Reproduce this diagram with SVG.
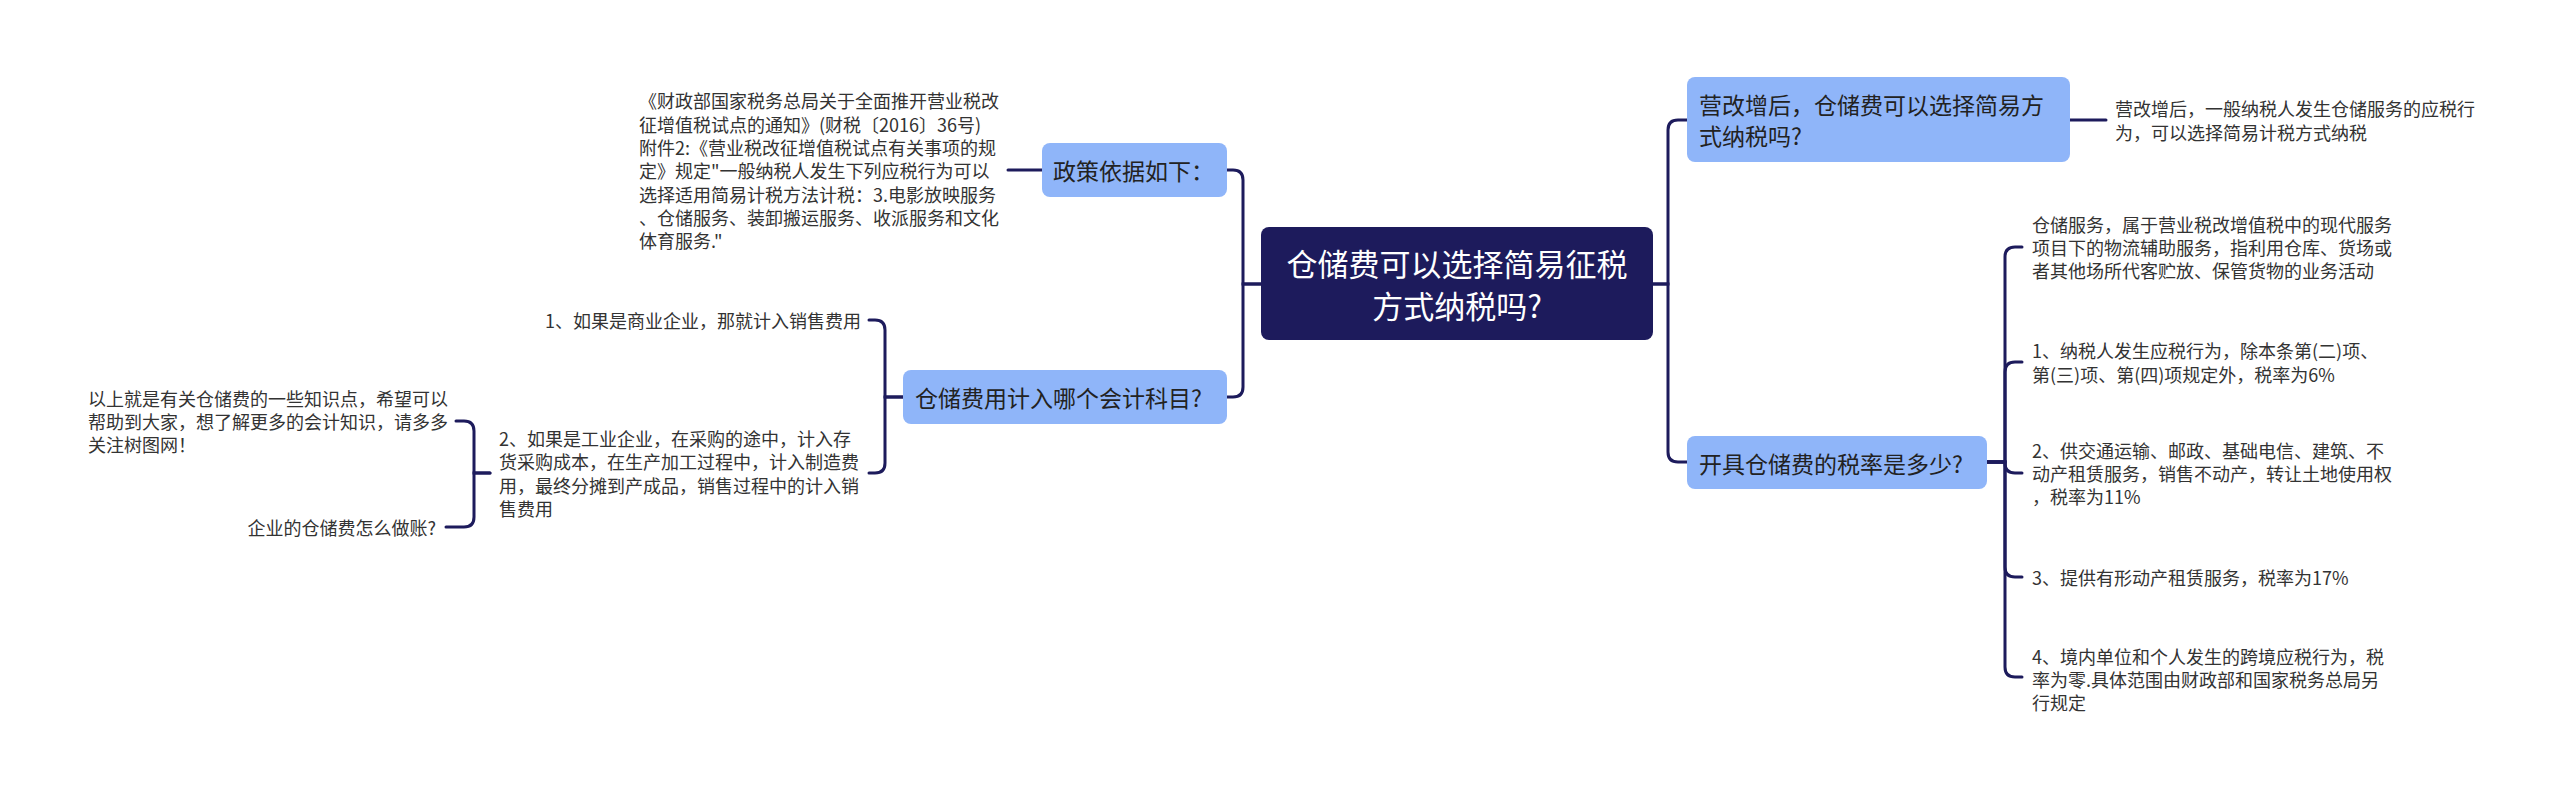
<svg xmlns="http://www.w3.org/2000/svg" width="2560" height="802" viewBox="0 0 2560 802">
<style>
text{font-family:"Noto Sans CJK SC","Noto Sans",sans-serif;dominant-baseline:central}
.root{fill:#1d1b5c}
.rt{fill:#ffffff;font-size:31px}
.br{fill:#8fb5f9}
.bt{fill:#222222;font-size:23px}
.lf{fill:#333333;font-size:18px}
.c{fill:none;stroke:#1d1b5c;stroke-width:3;stroke-linecap:round}
</style>
<rect width="2560" height="802" fill="#ffffff"/>
<g id="connectors">
<path class="c" d="M1261 284 H1243 V180 Q1243 170 1233 170 H1227"/>
<path class="c" d="M1261 284 H1243 V387 Q1243 397 1233 397 H1227"/>
<path class="c" d="M1042 170 H1008"/>
<path class="c" d="M903 397 H885 V330 Q885 320 875 320 H869"/>
<path class="c" d="M903 397 H885 V463 Q885 473 875 473 H869"/>
<path class="c" d="M490 473 H474 V431 Q474 421 464 421 H456"/>
<path class="c" d="M490 473 H474 V517 Q474 527 464 527 H446"/>
<path class="c" d="M1653 284 H1668 V130 Q1668 120 1678 120 H1687"/>
<path class="c" d="M1653 284 H1668 V452 Q1668 462 1678 462 H1687"/>
<path class="c" d="M2070 120 H2106"/>
<path class="c" d="M1987 462 H2005 V257 Q2005 247 2015 247 H2022"/>
<path class="c" d="M1987 462 H2005 V372 Q2005 362 2015 362 H2022"/>
<path class="c" d="M1987 462 H2005 V463 Q2005 473 2015 473 H2022"/>
<path class="c" d="M1987 462 H2005 V567 Q2005 577 2015 577 H2022"/>
<path class="c" d="M1987 462 H2005 V667 Q2005 677 2015 677 H2022"/>
</g>
<g id="root">
<rect class="root" x="1261" y="227" width="392" height="113" rx="8"/>
<text class="rt" x="1457" y="262" text-anchor="middle">仓储费可以选择简易征税</text>
<text class="rt" x="1457" y="304" text-anchor="middle">方式纳税吗?</text>
</g>
<g id="node-policy">
<rect class="br" x="1042" y="143" width="185" height="54" rx="8"/>
<text class="bt" x="1053" y="170">政策依据如下：</text>
</g>
<g id="leaf-policy">
<text class="lf" x="639" y="100.3">《财政部国家税务总局关于全面推开营业税改</text>
<text class="lf" x="639" y="123.6">征增值税试点的通知》(财税〔2016〕36号)</text>
<text class="lf" x="639" y="147">附件2:《营业税改征增值税试点有关事项的规</text>
<text class="lf" x="639" y="170.3">定》规定"一般纳税人发生下列应税行为可以</text>
<text class="lf" x="639" y="193.6">选择适用简易计税方法计税：3.电影放映服务</text>
<text class="lf" x="639" y="217">、仓储服务、装卸搬运服务、收派服务和文化</text>
<text class="lf" x="639" y="240.3">体育服务."</text>
</g>
<g id="node-account">
<rect class="br" x="903" y="370" width="324" height="54" rx="8"/>
<text class="bt" x="915" y="397">仓储费用计入哪个会计科目?</text>
</g>
<g id="leaf-account-1">
<text class="lf" x="861" y="320" text-anchor="end">1、如果是商业企业，那就计入销售费用</text>
</g>
<g id="leaf-account-2">
<text class="lf" x="499" y="438">2、如果是工业企业，在采购的途中，计入存</text>
<text class="lf" x="499" y="461.3">货采购成本，在生产加工过程中，计入制造费</text>
<text class="lf" x="499" y="484.7">用，最终分摊到产成品，销售过程中的计入销</text>
<text class="lf" x="499" y="508">售费用</text>
</g>
<g id="leaf-summary">
<text class="lf" x="88" y="397.7">以上就是有关仓储费的一些知识点，希望可以</text>
<text class="lf" x="88" y="421">帮助到大家，想了解更多的会计知识，请多多</text>
<text class="lf" x="88" y="444.3">关注树图网！</text>
</g>
<g id="leaf-bookkeeping">
<text class="lf" x="436" y="527" text-anchor="end">企业的仓储费怎么做账?</text>
</g>
<g id="node-vat">
<rect class="br" x="1687" y="77" width="383" height="85" rx="8"/>
<text class="bt" x="1699" y="104">营改增后，仓储费可以选择简易方</text>
<text class="bt" x="1699" y="135">式纳税吗?</text>
</g>
<g id="leaf-vat">
<text class="lf" x="2115" y="108.3">营改增后，一般纳税人发生仓储服务的应税行</text>
<text class="lf" x="2115" y="131.7">为，可以选择简易计税方式纳税</text>
</g>
<g id="node-rate">
<rect class="br" x="1687" y="436" width="300" height="53" rx="8"/>
<text class="bt" x="1699" y="462.5">开具仓储费的税率是多少?</text>
</g>
<g id="leaf-rate-a">
<text class="lf" x="2032" y="223.7">仓储服务，属于营业税改增值税中的现代服务</text>
<text class="lf" x="2032" y="247">项目下的物流辅助服务，指利用仓库、货场或</text>
<text class="lf" x="2032" y="270.3">者其他场所代客贮放、保管货物的业务活动</text>
</g>
<g id="leaf-rate-b">
<text class="lf" x="2032" y="350.3">1、纳税人发生应税行为，除本条第(二)项、</text>
<text class="lf" x="2032" y="373.7">第(三)项、第(四)项规定外，税率为6%</text>
</g>
<g id="leaf-rate-c">
<text class="lf" x="2032" y="449.7">2、供交通运输、邮政、基础电信、建筑、不</text>
<text class="lf" x="2032" y="473">动产租赁服务，销售不动产，转让土地使用权</text>
<text class="lf" x="2032" y="496.3">，税率为11%</text>
</g>
<g id="leaf-rate-d">
<text class="lf" x="2032" y="577">3、提供有形动产租赁服务，税率为17%</text>
</g>
<g id="leaf-rate-e">
<text class="lf" x="2032" y="655.7">4、境内单位和个人发生的跨境应税行为，税</text>
<text class="lf" x="2032" y="679">率为零.具体范围由财政部和国家税务总局另</text>
<text class="lf" x="2032" y="702.3">行规定</text>
</g>
</svg>
